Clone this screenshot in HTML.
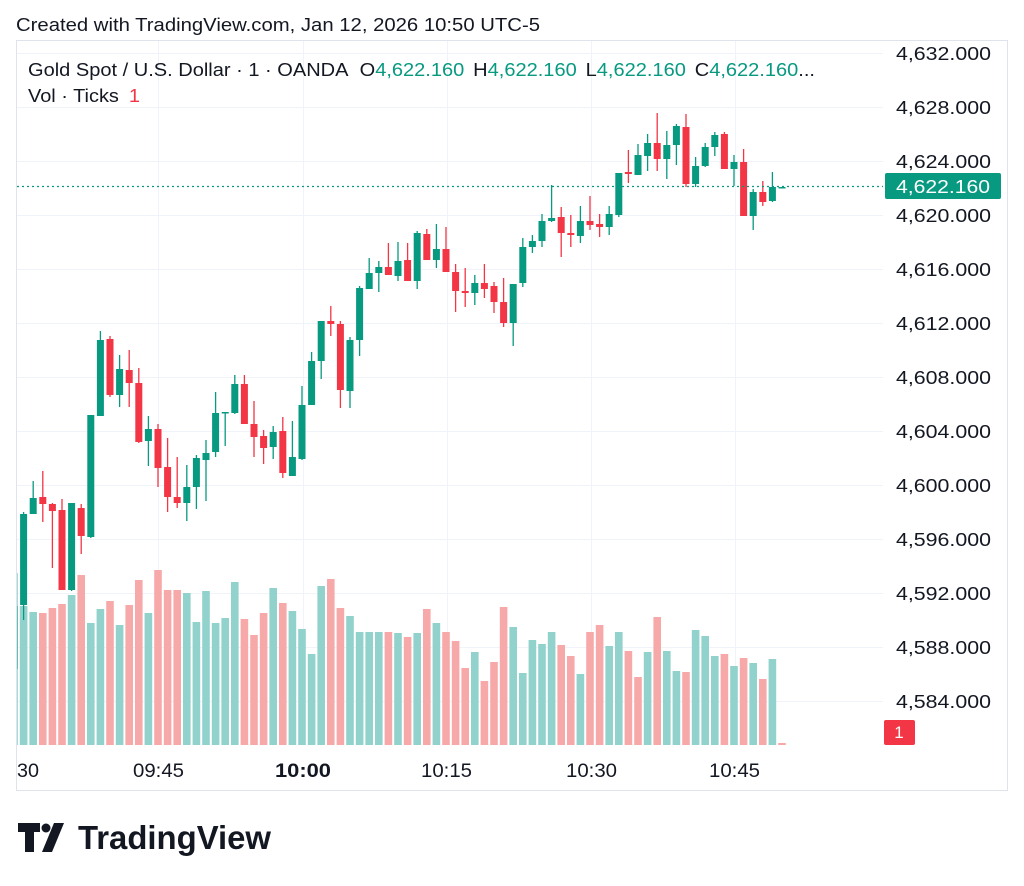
<!DOCTYPE html>
<html><head><meta charset="utf-8"><style>
body{margin:0;background:#fff;width:1024px;height:886px;overflow:hidden;font-family:"Liberation Sans",sans-serif;}
svg{position:absolute;left:0;top:0}
</style></head><body>
<svg id="s" width="1024" height="886" xmlns="http://www.w3.org/2000/svg" font-family="Liberation Sans, sans-serif">
<text x="16" y="31" font-size="18" fill="#131722" textLength="524" lengthAdjust="spacingAndGlyphs">Created with TradingView.com, Jan 12, 2026 10:50 UTC-5</text>
<rect x="16.5" y="40.5" width="991" height="750" fill="none" stroke="#e0e3eb"/>
<g id="grid" stroke="#f0f3fa" stroke-width="1"></g>
<defs><clipPath id="c"><rect x="17" y="41" width="866" height="704"/></clipPath></defs>
<g id="vol" clip-path="url(#c)"></g>
<g id="cand" clip-path="url(#c)"></g>
<line x1="17" y1="186.5" x2="883" y2="186.5" stroke="#089981" stroke-dasharray="2,3" stroke-width="1.3"/>
<g font-size="18" fill="#131722" id="plab"></g>
<rect x="885" y="173" width="116" height="26" rx="2" fill="#089981"/>
<text x="896" y="193" font-size="18" fill="#fff" textLength="94" lengthAdjust="spacingAndGlyphs">4,622.160</text>
<rect x="884" y="720" width="31" height="25" rx="2" fill="#f23645"/>
<text x="899" y="738" font-size="17" fill="#fff" text-anchor="middle">1</text>
<g font-size="19" fill="#131722">
<text x="17" y="777" textLength="22" lengthAdjust="spacingAndGlyphs">30</text>
<text x="133" y="777" textLength="51" lengthAdjust="spacingAndGlyphs">09:45</text>
<text x="275" y="777" font-weight="bold" textLength="56" lengthAdjust="spacingAndGlyphs">10:00</text>
<text x="421" y="777" textLength="51" lengthAdjust="spacingAndGlyphs">10:15</text>
<text x="566" y="777" textLength="51" lengthAdjust="spacingAndGlyphs">10:30</text>
<text x="709" y="777" textLength="51" lengthAdjust="spacingAndGlyphs">10:45</text>
</g>
<text x="28" y="76" font-size="18" fill="#131722" textLength="787" lengthAdjust="spacingAndGlyphs">Gold Spot / U.S. Dollar · 1 · OANDA <tspan dx="6">O</tspan><tspan fill="#089981">4,622.160</tspan><tspan dx="8">H</tspan><tspan fill="#089981">4,622.160</tspan><tspan dx="8">L</tspan><tspan fill="#089981">4,622.160</tspan><tspan dx="8">C</tspan><tspan fill="#089981">4,622.160</tspan>...</text>
<text x="28" y="102" font-size="18" fill="#131722" textLength="112" lengthAdjust="spacingAndGlyphs">Vol · Ticks <tspan dx="4" fill="#f23645">1</tspan></text>
<g transform="translate(18,823)" fill="#131722">
<path d="M0 0h22v9h-6v20h-9v-20h-7z"/>
<circle cx="28" cy="5" r="4.5"/>
<path d="M36 0h10l-12 29h-10z"/>
</g>
<text x="78" y="849" font-size="33" font-weight="bold" fill="#131722" textLength="193" lengthAdjust="spacingAndGlyphs">TradingView</text>
</svg>
<script>
var NS="http://www.w3.org/2000/svg";
function el(p,t,a){var e=document.createElementNS(NS,t);for(var k in a)e.setAttribute(k,a[k]);document.getElementById(p).appendChild(e);return e;}
var prices=["4,632.000","4,628.000","4,624.000","4,620.000","4,616.000","4,612.000","4,608.000","4,604.000","4,600.000","4,596.000","4,592.000","4,588.000","4,584.000"];
for(var i=0;i<13;i++){var y=53+i*54;el("grid","line",{x1:17,x2:883,y1:y+.5,y2:y+.5});
 var t=el("plab","text",{x:896,y:y+7,textLength:95,lengthAdjust:"spacingAndGlyphs"});t.textContent=prices[i];}
[158,303,447,591,735].forEach(function(x){el("grid","line",{x1:x+.5,x2:x+.5,y1:41,y2:745});});
var C=[[669,606,600,680],
[605,514,512,620],[514,498,481,514],[497,504,471,522],[504,511,503,568],[510,590,499,590],[590,503,503,591],[508,536,504,554],[537,415,415,538],[416,340,331,416],[339,395,336,397],
[395,369,355,407],[370,383,350,407],[383,442,368,443],[441,429,416,466],[429,468,424,487],[467,497,438,512],[497,503,457,508],[503,487,465,521],[487,458,455,509],[460,453,440,501],
[452,413,392,457],[413,412,412,446],[413,384,375,414],[384,424,375,424],[424,437,401,457],[436,448,430,464],[447,432,426,459],[431,473,417,478],[476,457,421,476],[459,405,386,460],
[405,361,352,405],[361,321,321,379],[321,324,306,336],[324,390,321,408],[391,340,337,408],[340,288,286,356],[289,273,258,289],[273,267,261,292],[267,275,243,275],[276,261,242,281],
[260,281,243,281],[281,233,231,289],[234,260,229,260],[260,249,224,268],[249,272,227,272],[272,291,264,312],[291,293,268,307],[293,283,275,305],[283,289,264,298],[286,302,282,313],
[302,323,278,327],[323,284,284,346],[283,247,238,287],[247,241,235,253],[241,221,214,247],[221,218,185,222],[217,233,207,257],[233,235,215,247],[236,221,206,243],[221,225,196,230],
[224,227,214,237],[227,214,206,235],[215,173,173,217],[172,174,150,183],[175,155,144,175],[156,143,134,171],[143,159,113,171],[159,145,131,179],[145,126,124,165],[127,184,114,187],
[184,166,157,187],[166,147,143,167],[147,135,132,156],[134,169,132,169],[169,162,155,186],[162,216,149,216],[216,192,189,230],[192,202,181,206],[201,187,172,202],[187,187,187,187]];
var V=[573,606,612,613,608,604,595,575,623,609,601,625,605,580,613,570,590,590,593,622,591,623,618,582,619,635,613,588,603,611,629,654,586,579,608,616,632,632,632,632,633,637,633,609,623,632,641,668,652,681,662,607,627,673,640,644,632,645,656,674,632,625,646,632,651,677,652,617,651,671,672,630,636,656,654,666,658,663,679,659,743];
var Vc=[1,1,1,0,0,0,1,0,1,1,0,1,0,0,1,0,0,0,1,1,1,1,1,1,0,0,0,1,0,1,1,1,1,0,0,1,1,1,1,0,1,0,1,0,1,0,0,0,1,0,0,0,1,1,1,1,1,0,0,1,0,0,1,1,0,0,1,0,1,1,0,1,1,1,0,1,0,1,0,1,0];
for(var i=0;i<C.length;i++){
 var x=14+9.6*i,c=C[i],g=c[1]<=c[0];var col=g?"#089981":"#f23645";
 var vy=V[i];var vg=Vc[i]; if(i<V.length) el("vol","rect",{x:x-3.8,y:vy,width:7.6,height:745-vy,fill:vg?"#92d2cc":"#f7a9a9"});
 el("cand","line",{x1:x,x2:x,y1:c[2],y2:c[3],stroke:col,"stroke-width":1.3});
 var t=Math.min(c[0],c[1]),h=Math.max(1.5,Math.abs(c[1]-c[0]));
 el("cand","rect",{x:x-3.5,y:t,width:7,height:h,fill:col});
}
</script>
</body></html>
